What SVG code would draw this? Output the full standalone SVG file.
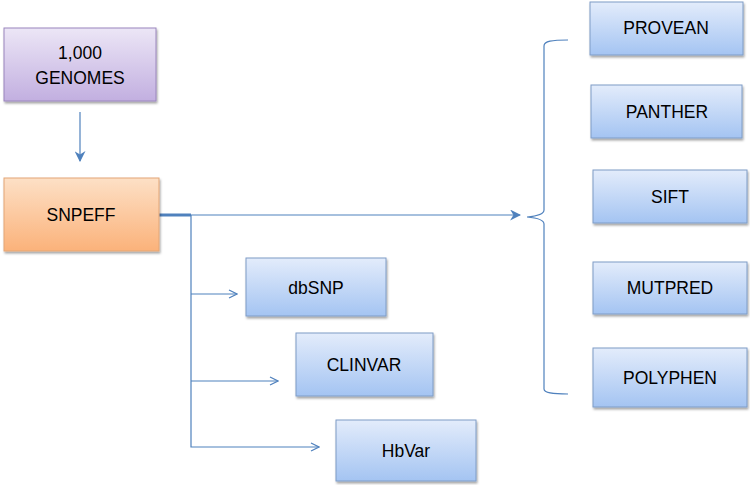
<svg xmlns="http://www.w3.org/2000/svg" width="750" height="485" viewBox="0 0 750 485">
<style>
  text { font-family: "Liberation Sans", Arial, sans-serif; font-size: 17.5px; fill: #000; text-anchor: middle; dominant-baseline: central; }
  .blue { fill: url(#gBlue); stroke: #7f9cc6; stroke-width: 1; filter: url(#sh); }
  .purple { fill: url(#gPurple); stroke: #9a86bd; stroke-width: 1; filter: url(#sh); }
  .orange { fill: url(#gOrange); stroke: #e3a676; stroke-width: 1; filter: url(#sh); }
  .conn { fill: none; stroke: #4f81bd; stroke-width: 1.2; }
</style>
<defs>
  <linearGradient id="gBlue" x1="0" y1="0" x2="0" y2="1">
    <stop offset="0" stop-color="#e3ecfb"/>
    <stop offset="1" stop-color="#a4c4f2"/>
  </linearGradient>
  <linearGradient id="gPurple" x1="0" y1="0" x2="0" y2="1">
    <stop offset="0" stop-color="#ece6f6"/>
    <stop offset="1" stop-color="#c2afe0"/>
  </linearGradient>
  <linearGradient id="gOrange" x1="0" y1="0" x2="0" y2="1">
    <stop offset="0" stop-color="#fde0c6"/>
    <stop offset="1" stop-color="#fbb27a"/>
  </linearGradient>
  <filter id="sh" x="-10%" y="-10%" width="125%" height="130%">
    <feDropShadow dx="1" dy="2" stdDeviation="1.2" flood-color="#000" flood-opacity="0.35"/>
  </filter>
  <marker id="open" viewBox="0 0 10 10" refX="9" refY="5" markerWidth="10" markerHeight="10" markerUnits="userSpaceOnUse" orient="auto">
    <path d="M1,1 L9,5 L1,9" fill="none" stroke="#4f81bd" stroke-width="1.2"/>
  </marker>
  <marker id="solid" viewBox="0 0 10 10" refX="9" refY="5" markerWidth="11" markerHeight="11" markerUnits="userSpaceOnUse" orient="auto">
    <path d="M0,0 L10,5 L0,10 L3,5 Z" fill="#4f81bd"/>
  </marker>
</defs>

<g id="connectors">
  <line class="conn" x1="80" y1="112" x2="80" y2="161" marker-end="url(#solid)"/>
  <line x1="159" y1="215" x2="191" y2="215" stroke="#4f81bd" stroke-width="3"/>
  <line class="conn" x1="191" y1="215" x2="520" y2="215" marker-end="url(#solid)"/>
  <polyline class="conn" points="191,215 191,447 319,447" marker-end="url(#open)"/>
  <line class="conn" x1="191" y1="294" x2="237" y2="294" marker-end="url(#open)"/>
  <line class="conn" x1="191" y1="381" x2="278" y2="381" marker-end="url(#open)"/>
  <path class="conn" d="M568,40 C552,40 544,41 544,46 L544,210 C544,214 538,216 527,217 C538,218 544,220 544,224 L544,389 C544,393 552,394 568,394"/>
</g>

<g id="n-genomes">
  <rect class="purple" x="4" y="28" width="152" height="73"/>
  <text x="80" y="53">1,000</text>
  <text x="80" y="78">GENOMES</text>
</g>
<g id="n-snpeff">
  <rect class="orange" x="4" y="178" width="155" height="73"/>
  <text x="81" y="215">SNPEFF</text>
</g>
<g id="n-dbsnp">
  <rect class="blue" x="246" y="258" width="140" height="58"/>
  <text x="316" y="288">dbSNP</text>
</g>
<g id="n-clinvar">
  <rect class="blue" x="296" y="333" width="137" height="63"/>
  <text x="364" y="365">CLINVAR</text>
</g>
<g id="n-hbvar">
  <rect class="blue" x="336" y="420" width="140" height="61"/>
  <text x="406" y="451">HbVar</text>
</g>
<g id="n-provean">
  <rect class="blue" x="590" y="2" width="153" height="53"/>
  <text x="666" y="28">PROVEAN</text>
</g>
<g id="n-panther">
  <rect class="blue" x="591" y="85" width="151" height="53"/>
  <text x="667" y="112">PANTHER</text>
</g>
<g id="n-sift">
  <rect class="blue" x="593" y="170" width="154" height="53"/>
  <text x="670" y="197">SIFT</text>
</g>
<g id="n-mutpred">
  <rect class="blue" x="593" y="262" width="154" height="52"/>
  <text x="670" y="288">MUTPRED</text>
</g>
<g id="n-polyphen">
  <rect class="blue" x="593" y="348" width="154" height="59"/>
  <text x="670" y="378">POLYPHEN</text>
</g>
</svg>
